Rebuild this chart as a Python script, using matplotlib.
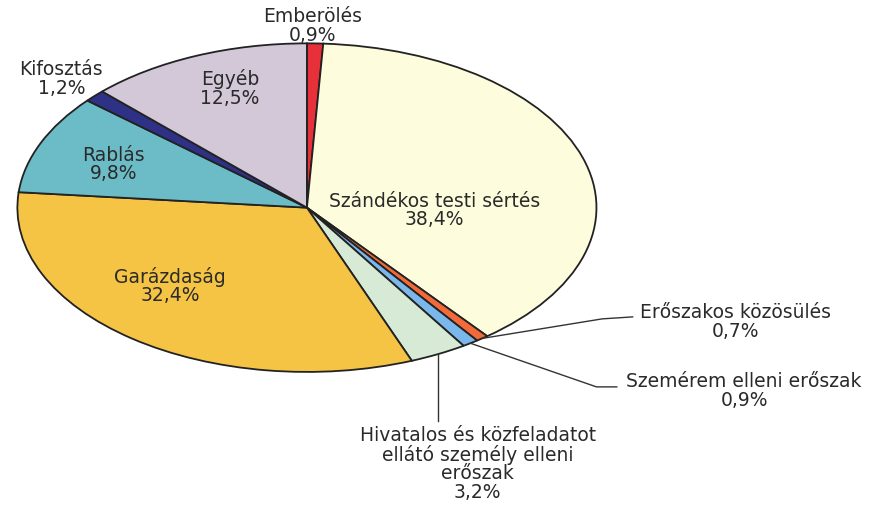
import numpy as np
import matplotlib
matplotlib.use("Agg")
import matplotlib.pyplot as plt

# slices, clockwise from 12 o'clock
labels = ["Emberölés", "Szándékos testi sértés", "Erőszakos közösülés",
          "Szemérem elleni erőszak",
          "Hivatalos és közfeladatot\nellátó személy elleni\nerőszak",
          "Garázdaság", "Rablás", "Kifosztás", "Egyéb"]
shares = [0.9, 38.4, 0.7, 0.9, 3.2, 32.4, 9.8, 1.2, 12.5]
colors = ["#e8303a", "#fdfcdc", "#f26a3a", "#7ab8ec", "#d6ead6",
          "#f6c445", "#6bbcc6", "#2e3185", "#d2c8d8"]

# label centres in data units (pie radius = 1, drawn stretched into an ellipse)
label_pos = [(0.02, 1.11), (0.44, -0.012), (1.48, -0.69), (1.51, -1.11),
             (0.59, -1.555), (-0.472, -0.47), (-0.669, 0.268), (-0.848, 0.787),
             (-0.266, 0.732)]

# bend + end point of the leader lines for the thin slices outside the pie
leader_tail = {
    2: [(1.02, -0.677), (1.125, -0.665)],
    3: [(1.00, -1.091), (1.07, -1.091)],
    4: [None, (None, -1.30)],
}

plt.rcParams["font.family"] = ["DejaVu Sans"]

fig = plt.figure(figsize=(8.86, 5.06), dpi=100)
ax = fig.add_axes([0, 0, 1, 1])

wedges, _ = ax.pie(shares, colors=colors, startangle=90, counterclock=False,
                   wedgeprops=dict(edgecolor="#222222", linewidth=1.3))
ax.set_aspect("auto")
ax.set_xlim(-1.06, 2.0)
ax.set_ylim(-1.81, 1.27)
ax.axis("off")

for i, (lab, val) in enumerate(zip(labels, shares)):
    x, y = label_pos[i]
    txt = f"{lab}\n{val:.1f}%".replace(".", ",")
    ax.text(x, y, txt, ha="center", va="center", fontsize=13.5,
            color="#2a2a2a", linespacing=0.98)

for i, tail in leader_tail.items():
    w = wedges[i]
    ang = np.deg2rad((w.theta1 + w.theta2) / 2)
    x0, y0 = np.cos(ang), np.sin(ang)
    if tail[0] is None:
        # straight down from the slice
        pts = [(x0, y0), (x0, tail[1][1])]
    else:
        pts = [(x0, y0)] + tail
    xs, ys = zip(*pts)
    ax.plot(xs, ys, color="#333333", lw=1.0, clip_on=False)

fig.savefig("out.png", dpi=100)
